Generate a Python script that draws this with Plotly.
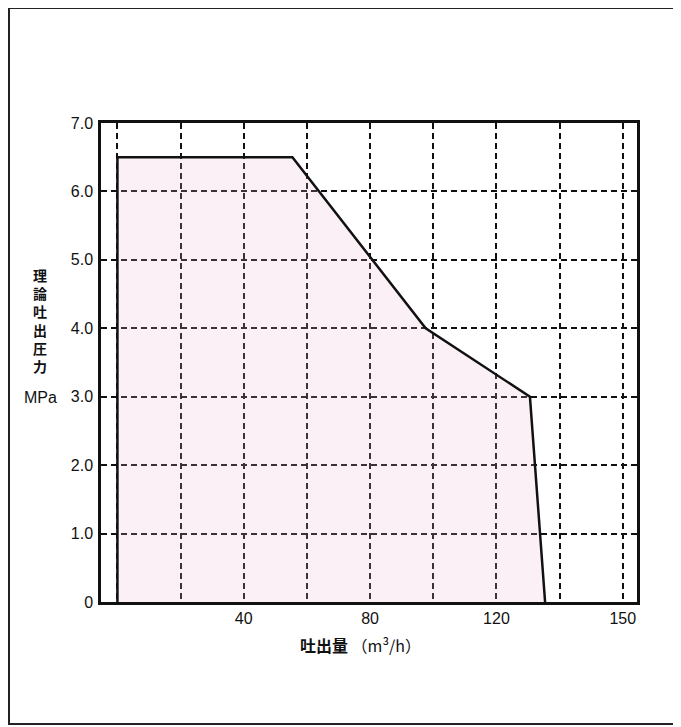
import plotly.graph_objects as go

# Data
flow = [0, 0, 55.4, 97.6, 130.6, 135.4]      # 吐出量 (m3/h)
pressure = [0, 6.5, 6.5, 4.0, 3.0, 0]         # 理論吐出圧力 (MPa)

x_tickvals = [0, 20, 40, 60, 80, 100, 120, 140, 160]
x_ticktext = ["", "", "40", "", "80", "", "120", "", "150"]
y_tickvals = [0, 1, 2, 3, 4, 5, 6, 7]
y_ticktext = ["0", "1.0", "2.0", "3.0", "4.0", "5.0", "6.0", "7.0"]
y_title_chars = ["理", "論", "吐", "出", "圧", "力"]

# page body has an 8px margin, so figure coords = window coords - 8
OFF = 8
W, H = 681 - OFF, 727 - OFF
L, T = 101 - OFF, 123 - OFF
R = W - (637 - OFF)
B = H - (602 - OFF)
pw, ph = W - L - R, H - T - B

def px(x):
    return (x - OFF - L) / pw

def py(y):
    return (H - B - (y - OFF)) / ph

fig = go.Figure()
fig.add_trace(go.Scatter(
    x=flow, y=pressure, mode="lines",
    fill="toself", fillcolor="rgba(235,180,210,0.2)",
    line=dict(color="#111111", width=2.5),
    hoverinfo="skip", showlegend=False,
))

tick_font = dict(family="Liberation Sans, Arial, sans-serif", size=16, color="#111111")

fig.update_layout(
    width=W, height=H,
    margin=dict(l=L, r=R, t=T, b=B),
    paper_bgcolor="white", plot_bgcolor="white",
    xaxis=dict(
        range=[-5.2, 164.5], tickvals=x_tickvals, ticktext=x_ticktext,
        showgrid=True, gridcolor="#111111", gridwidth=1.8, griddash="6px,4px",
        showline=True, linecolor="#111111", linewidth=2.5, mirror=True,
        zeroline=False, ticks="", tickfont=tick_font,
    ),
    yaxis=dict(
        range=[0, 7], tickvals=y_tickvals, ticktext=y_ticktext,
        showgrid=True, gridcolor="#111111", gridwidth=1.8, griddash="6px,4px",
        showline=True, linecolor="#111111", linewidth=2.5, mirror=True,
        zeroline=False, ticks="", tickfont=tick_font, ticklabelstandoff=2,
    ),
)

cjk = "Noto Sans CJK JP"
fig.add_annotation(
    x=px(40), y=py(320), xref="paper", yref="paper",
    text="<b>" + "<br>".join(y_title_chars) + "</b>", showarrow=False,
    font=dict(family=cjk, size=14, color="#111111"), align="center",
    xanchor="center", yanchor="middle",
)
fig.add_annotation(
    x=px(40), y=py(397), xref="paper", yref="paper",
    text="MPa", showarrow=False,
    font=dict(family="Liberation Sans, Arial, sans-serif", size=16, color="#111111"),
    xanchor="center", yanchor="middle",
)
fig.add_annotation(
    x=px(360), y=py(645), xref="paper", yref="paper",
    text="<b>吐出量</b> （m³/h）", showarrow=False,
    font=dict(family=cjk, size=16, color="#111111"),
    xanchor="center", yanchor="middle",
)

# outer frame
fig.add_shape(
    type="rect", xref="paper", yref="paper",
    x0=px(9), x1=px(675), y0=py(724), y1=py(8),
    line=dict(color="#222222", width=2), fillcolor="rgba(0,0,0,0)", layer="below",
)

fig.write_html("out.html")
